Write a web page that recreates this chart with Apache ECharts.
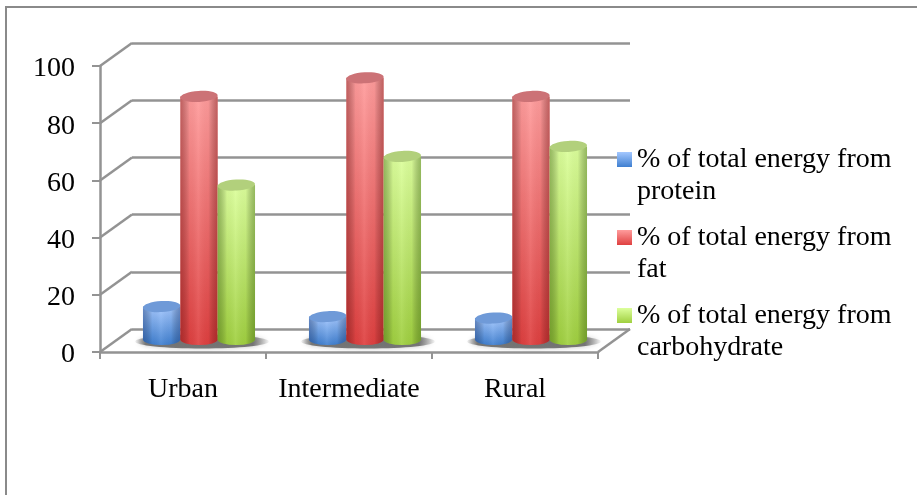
<!DOCTYPE html>
<html>
<head>
<meta charset="utf-8">
<style>
html,body{margin:0;padding:0;background:#fff;}
#chart{width:917px;height:495px;}
</style>
<script src="https://cdn.jsdelivr.net/npm/echarts@6/dist/echarts.min.js"></script>
</head>
<body>
<div id="chart"></div>
<script>
const categories = ['Urban', 'Intermediate', 'Rural'];
const protein = [11.5, 8, 7.5];
const fat = [85, 91.5, 85];
const carbohydrate = [54, 64, 67.5];
const seriesNames = [
  '% of total energy from protein',
  '% of total energy from fat',
  '% of total energy from carbohydrate'
];
const legendLines = {
  '% of total energy from protein': '% of total energy from\nprotein',
  '% of total energy from fat': '% of total energy from\nfat',
  '% of total energy from carbohydrate': '% of total energy from\ncarbohydrate'
};
const yTicks = [0, 20, 40, 60, 80, 100];

const FONT = '"Liberation Serif", serif';
const GREY = '#939393';
// screen shift of the back wall relative to the front plane
const DEPTH_X = 32, DEPTH_Y = -23;

// body, cap and legend tones per nutrient
const palettes = [
  { top: '#a4c8ff', bottom: '#3f7fd0', cap: '#6f9ad8', shade: 'rgba(20,50,110,0.42)' },
  { top: '#ff9c9c', bottom: '#df4040', cap: '#cc7276', shade: 'rgba(110,10,10,0.42)' },
  { top: '#dcff9c', bottom: '#a0d040', cap: '#b2d07c', shade: 'rgba(50,90,10,0.42)' }
];

function vGrad(c1, c2) {
  return new echarts.graphic.LinearGradient(0, 0, 0, 1, [
    { offset: 0, color: c1 }, { offset: 1, color: c2 }
  ]);
}

// one cylinder per data item: body, side shading, elliptical cap
function cylinderRenderer(seriesIdx) {
  const pal = palettes[seriesIdx];
  return function (params, api) {
    const catIdx = api.value(0);
    const val = api.value(1);
    const base = api.coord([catIdx, 0]);
    const top = api.coord([catIdx, val]);
    const band = api.size([1, 0])[0];
    const w = band * 0.225;
    const cx = base[0] + DEPTH_X / 2 + (seriesIdx - 1) * w;
    const by = base[1] + DEPTH_Y / 2 - 1;
    const ty = top[1] + DEPTH_Y / 2 - 1;
    const rx = w / 2, ry = 5.5;
    const bodyPath = 'M' + (cx - rx) + ' ' + ty + 'L' + (cx + rx) + ' ' + ty +
      'L' + (cx + rx) + ' ' + by + 'A' + rx + ' ' + ry + ' 0 0 1 ' + (cx - rx) + ' ' + by + 'Z';
    return {
      type: 'group',
      children: [
        {
          type: 'path',
          shape: { pathData: bodyPath },
          style: { fill: vGrad(pal.top, pal.bottom) }
        },
        {
          type: 'path',
          shape: { pathData: bodyPath },
          style: {
            fill: new echarts.graphic.LinearGradient(0, 0, 1, 0, [
              { offset: 0, color: pal.shade },
              { offset: 0.25, color: 'rgba(0,0,0,0.03)' },
              { offset: 0.48, color: 'rgba(255,255,255,0.08)' },
              { offset: 0.75, color: 'rgba(0,0,0,0.03)' },
              { offset: 1, color: pal.shade }
            ])
          }
        },
        {
          type: 'ellipse',
          shape: { cx: cx, cy: ty, rx: rx, ry: ry },
          rotation: 0.06,
          originX: cx,
          originY: ty,
          style: { fill: pal.cap }
        }
      ]
    };
  };
}

// soft pool beneath each cluster, drawn under the cylinders
function floorShadowRenderer(params, api) {
  const catIdx = api.value(0);
  const base = api.coord([catIdx, 0]);
  const cx = base[0] + DEPTH_X / 2 + 3;
  const by = base[1] + DEPTH_Y / 2 + 1;
  return {
    type: 'ellipse',
    shape: { cx: cx, cy: by, rx: 67, ry: 7 },
    style: {
      fill: new echarts.graphic.LinearGradient(0, 0, 1, 0, [
        { offset: 0, color: 'rgba(100,100,100,0.05)' },
        { offset: 0.08, color: 'rgba(100,100,100,0.85)' },
        { offset: 0.88, color: 'rgba(100,100,100,0.85)' },
        { offset: 1, color: 'rgba(100,100,100,0.05)' }
      ]),
      shadowBlur: 5,
      shadowColor: 'rgba(120,120,120,0.5)'
    }
  };
}

// slanted edges linking front-plane ticks to the back wall
function wallEdgeRenderer(params, api) {
  const p = api.coord([0, api.value(0)]);
  const x0 = params.coordSys.x;
  return {
    type: 'line',
    shape: { x1: x0, y1: p[1], x2: x0 + DEPTH_X, y2: p[1] + DEPTH_Y },
    style: { stroke: GREY, lineWidth: 2.5 }
  };
}

// right floor edge
function floorEdgeRenderer(params, api) {
  const cs = params.coordSys;
  const y = api.coord([0, 0])[1];
  return {
    type: 'line',
    shape: { x1: cs.x + cs.width, y1: y, x2: cs.x + cs.width + DEPTH_X, y2: y + DEPTH_Y },
    style: { stroke: GREY, lineWidth: 2.5 }
  };
}

const frontGrid = { left: 100, top: 66, width: 498, height: 286 };
const backGrid = { left: 100 + DEPTH_X, top: 66 + DEPTH_Y, width: 498, height: 286 };

const chart = echarts.init(document.getElementById('chart'), null, { renderer: 'canvas' });

const mainValues = [protein, fat, carbohydrate];

chart.setOption({
  animation: false,
  backgroundColor: '#fff',
  graphic: [{
    type: 'polyline',
    shape: { points: [[6, 495], [6, 7], [917, 7]] },
    style: { stroke: '#8a8a8a', lineWidth: 2, fill: null },
    silent: true
  }],
  legend: {
    orient: 'vertical',
    left: 612,
    top: 105,
    itemWidth: 15,
    itemHeight: 15,
    itemGap: -21,
    align: 'left',
    icon: 'rect',
    selectedMode: false,
    formatter: name => '\n' + legendLines[name],
    textStyle: { fontFamily: FONT, fontSize: 28, color: '#000', lineHeight: 32, padding: [3, 0, 0, 0] },
    data: seriesNames.map((n, i) => ({
      name: n,
      itemStyle: { color: vGrad(palettes[i].top, palettes[i].bottom) }
    }))
  },
  grid: [frontGrid, backGrid],
  xAxis: [{
    type: 'category',
    gridIndex: 0,
    data: categories,
    axisLine: { onZero: false, lineStyle: { color: GREY, width: 2.5 } },
    axisTick: { show: true, alignWithLabel: false, length: 7, lineStyle: { color: GREY, width: 2 } },
    axisLabel: { fontFamily: FONT, fontSize: 28, color: '#000', margin: 24, interval: 0, hideOverlap: false },
    splitLine: { show: false }
  }, {
    type: 'category',
    gridIndex: 1,
    data: categories,
    show: false,
    splitLine: { show: false }
  }],
  yAxis: [{
    type: 'value',
    gridIndex: 0,
    min: 0, max: 100, interval: 20,
    axisLine: { show: true, lineStyle: { color: GREY, width: 2.5 } },
    axisTick: { show: true, length: 8, lineStyle: { color: GREY, width: 2 } },
    axisLabel: {
      color: '#000',
      margin: 25,
      formatter: '{d|{value}}',
      rich: { d: { fontFamily: FONT, fontSize: 28, color: '#000', padding: [6, 0, 0, 0] } }
    },
    splitLine: { show: false }
  }, {
    type: 'value',
    gridIndex: 1,
    min: 0, max: 100, interval: 20,
    axisLine: { show: false },
    axisTick: { show: false },
    axisLabel: { show: false },
    splitLine: { show: true, lineStyle: { color: GREY, width: 2.5 } }
  }],
  series: [
    {
      type: 'custom', name: 'walls', xAxisIndex: 0, yAxisIndex: 0, silent: true, z: 1,
      renderItem: wallEdgeRenderer,
      data: yTicks.map(v => [v]),
      encode: { y: 0 }
    },
    {
      type: 'custom', name: 'floor', xAxisIndex: 0, yAxisIndex: 0, silent: true, z: 1,
      renderItem: floorEdgeRenderer,
      data: [[0]],
      encode: { y: 0 }
    },
    {
      type: 'custom', name: 'shadow', xAxisIndex: 0, yAxisIndex: 0, silent: true, z: 2,
      renderItem: floorShadowRenderer,
      data: categories.map((c, i) => [i]),
      encode: { x: 0 }
    }
  ].concat(seriesNames.map((n, i) => ({
    type: 'custom',
    name: n,
    xAxisIndex: 0,
    yAxisIndex: 0,
    z: 3 + i,
    clip: false,
    renderItem: cylinderRenderer(i),
    itemStyle: { color: palettes[i].bottom },
    data: mainValues[i].map((v, k) => [k, v]),
    encode: { x: 0, y: 1 }
  })))
});
</script>
</body>
</html>
